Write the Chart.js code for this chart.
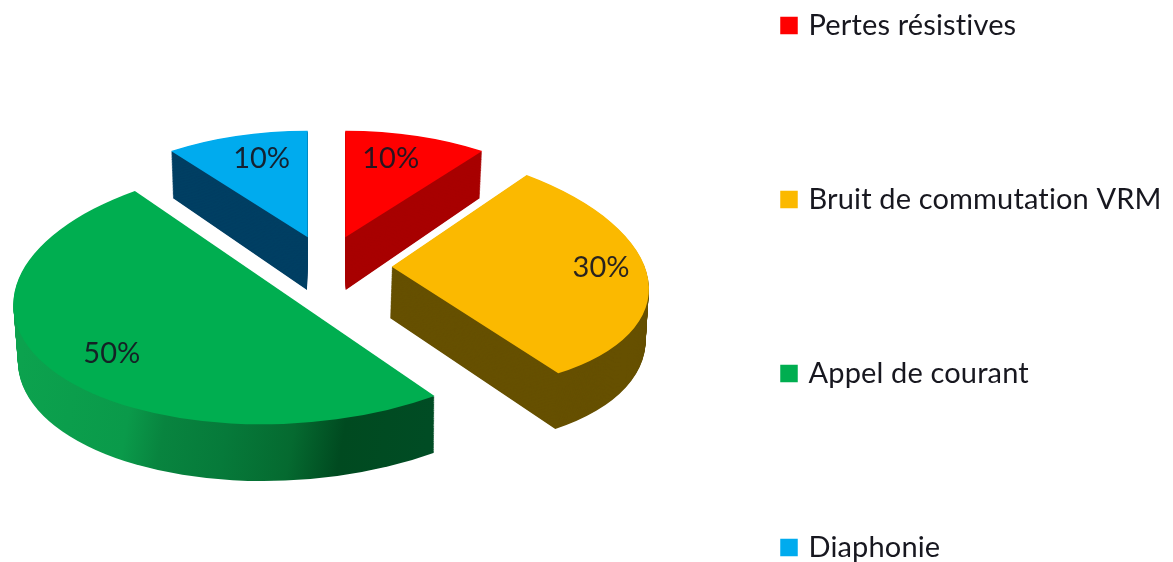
<!DOCTYPE html>
<html><head><meta charset="utf-8">
<style>html,body{margin:0;padding:0;background:#fff;overflow:hidden}#w{width:1173px;height:562px}</style>
<script src="https://cdn.jsdelivr.net/npm/chart.js@4/dist/chart.umd.min.js"></script>
</head><body><div id="w"><canvas id="c" width="1173" height="562"></canvas></div>
<script>
// ---- data ----
const categories = ['Pertes résistives', 'Bruit de commutation VRM', 'Appel de courant', 'Diaphonie'];
const shares = [10, 30, 50, 10];
const valueLabels = ['10%', '30%', '50%', '10%'];

// ---- styles ----
const topColors = ['#FF0000', '#FBB900', '#00AE50', '#00ABEE'];
const sideColors = ['#A80000', '#665000', null, '#003F63'];
const greenSideStops = [[0, '#0CA24E'], [0.28, '#0A9A4A'], [0.37, '#08843F'], [0.52, '#067A3A'], [0.68, '#056A30'], [0.8, '#004A20'], [1, '#004C24']];
const greenSideSpan = [13, 434];
const inkColor = 'rgba(22,22,34,0.92)';
const pieFont = 'Lato, sans-serif';
const legendLeft = 784, legendTop = 11, legendGap = 145;

// ---- fake 3-D projection: apex + linear map of the unit pie, for top and bottom faces ----
const topFaces = [
  {o: [345.3, 237.3], m: [233, 0, 0, 106.6]},
  {o: [391.7, 266.7], m: [256.5, 12.7, 19.5, 122.5]},
  {o: [284.7, 293.5], m: [271.1, -5.5, -11.8, 130.7]},
  {o: [307.7, 237.3], m: [232.5, 0, 0, 106.6]}
];
const bottomFaces = [
  {o: [345.7, 290], m: [228.4, 0, 0, 113.7]},
  {o: [390, 318], m: [255, 12.7, 19, 128]},
  {o: [286.2, 350.2], m: [268, -5.5, -11.8, 130.7]},
  {o: [307, 290], m: [228.4, 0, 0, 113.7]}
];
const labelSpots = [[0.195, -0.741], [0.822, -0.077], [-0.619, 0.431], [-0.198, -0.741]];
const depthSteps = 64;

function placeFace(ctx, arc, face) {
  const R = arc.outerRadius, m = face.m;
  ctx.transform(m[0], m[1], m[2], m[3], face.o[0], face.o[1]);
  ctx.scale(1 / R, 1 / R);
  ctx.translate(-arc.x, -arc.y);
}
function paintArc(ctx, arc, fill) {
  const saved = arc.options.backgroundColor;
  arc.options.backgroundColor = fill;
  arc.draw(ctx);
  arc.options.backgroundColor = saved;
}
function mix(a, b, t) {
  return {o: a.o.map((v, i) => v + (b.o[i] - v) * t), m: a.m.map((v, i) => v + (b.m[i] - v) * t)};
}
const pie3d = {
  id: 'pie3d',
  beforeDraw(chart) {
    chart.ctx.letterSpacing = '0.15px';
  },
  beforeDatasetDraw(chart) {
    const ctx = chart.ctx, arcs = chart.getDatasetMeta(0).data;
    arcs.forEach((arc, i) => {
      for (let s = depthSteps; s >= 1; s--) {
        ctx.save();
        placeFace(ctx, arc, mix(topFaces[i], bottomFaces[i], s / depthSteps));
        let fill = sideColors[i];
        if (!fill) {
          const inv = ctx.getTransform().inverse();
          const p0 = inv.transformPoint({x: greenSideSpan[0], y: 400});
          const p1 = inv.transformPoint({x: greenSideSpan[1], y: 400});
          fill = ctx.createLinearGradient(p0.x, p0.y, p1.x, p1.y);
          greenSideStops.forEach(st => fill.addColorStop(st[0], st[1]));
        }
        paintArc(ctx, arc, fill);
        ctx.restore();
      }
      ctx.save();
      placeFace(ctx, arc, topFaces[i]);
      paintArc(ctx, arc, topColors[i]);
      ctx.restore();
    });
    return false;
  },
  afterDatasetsDraw(chart) {
    const ctx = chart.ctx;
    ctx.save();
    ctx.letterSpacing = '0px';
    ctx.font = '29px ' + pieFont;
    ctx.fillStyle = inkColor;
    ctx.textAlign = 'center';
    ctx.textBaseline = 'middle';
    valueLabels.forEach((t, i) => {
      const f = topFaces[i], u = labelSpots[i];
      ctx.fillText(t, f.o[0] + f.m[0] * u[0] + f.m[2] * u[1], f.o[1] + f.m[1] * u[0] + f.m[3] * u[1]);
    });
    ctx.restore();
  },
  afterLayout(chart) {
    const lg = chart.legend, p = lg.options.labels.padding;
    lg.left = legendLeft - p;
    lg.top = legendTop - p;
    lg.bottom = lg.top + 2000;
  }
};

// let the widely spaced legend stay in one column
const LegendProto = Chart.registry.getPlugin('legend')._element.prototype;
const fitCols = LegendProto._fitCols;
LegendProto._fitCols = function (...a) {
  const keep = this.maxHeight;
  this.maxHeight = 100000;
  const r = fitCols.apply(this, a);
  this.maxHeight = keep;
  return r;
};
const defaultLabels = Chart.overrides.pie.plugins.legend.labels.generateLabels;

new Chart(document.getElementById('c'), {
  type: 'pie',
  data: {labels: categories, datasets: [{data: shares, backgroundColor: topColors, borderWidth: 0}]},
  options: {
    responsive: false,
    animation: false,
    events: [],
    plugins: {
      tooltip: {enabled: false},
      legend: {
        position: 'right',
        align: 'start',
        labels: {
          // small box + thick same-colour stroke: keeps the label close to the swatch
          boxWidth: 10, boxHeight: 10, padding: legendGap, color: '#17171f',
          font: {family: pieFont, size: 29},
          generateLabels: chart => defaultLabels(chart).map(it => Object.assign(it, {strokeStyle: it.fillStyle, lineWidth: 7.5}))
        }
      }
    }
  },
  plugins: [pie3d]
});
</script></body></html>
